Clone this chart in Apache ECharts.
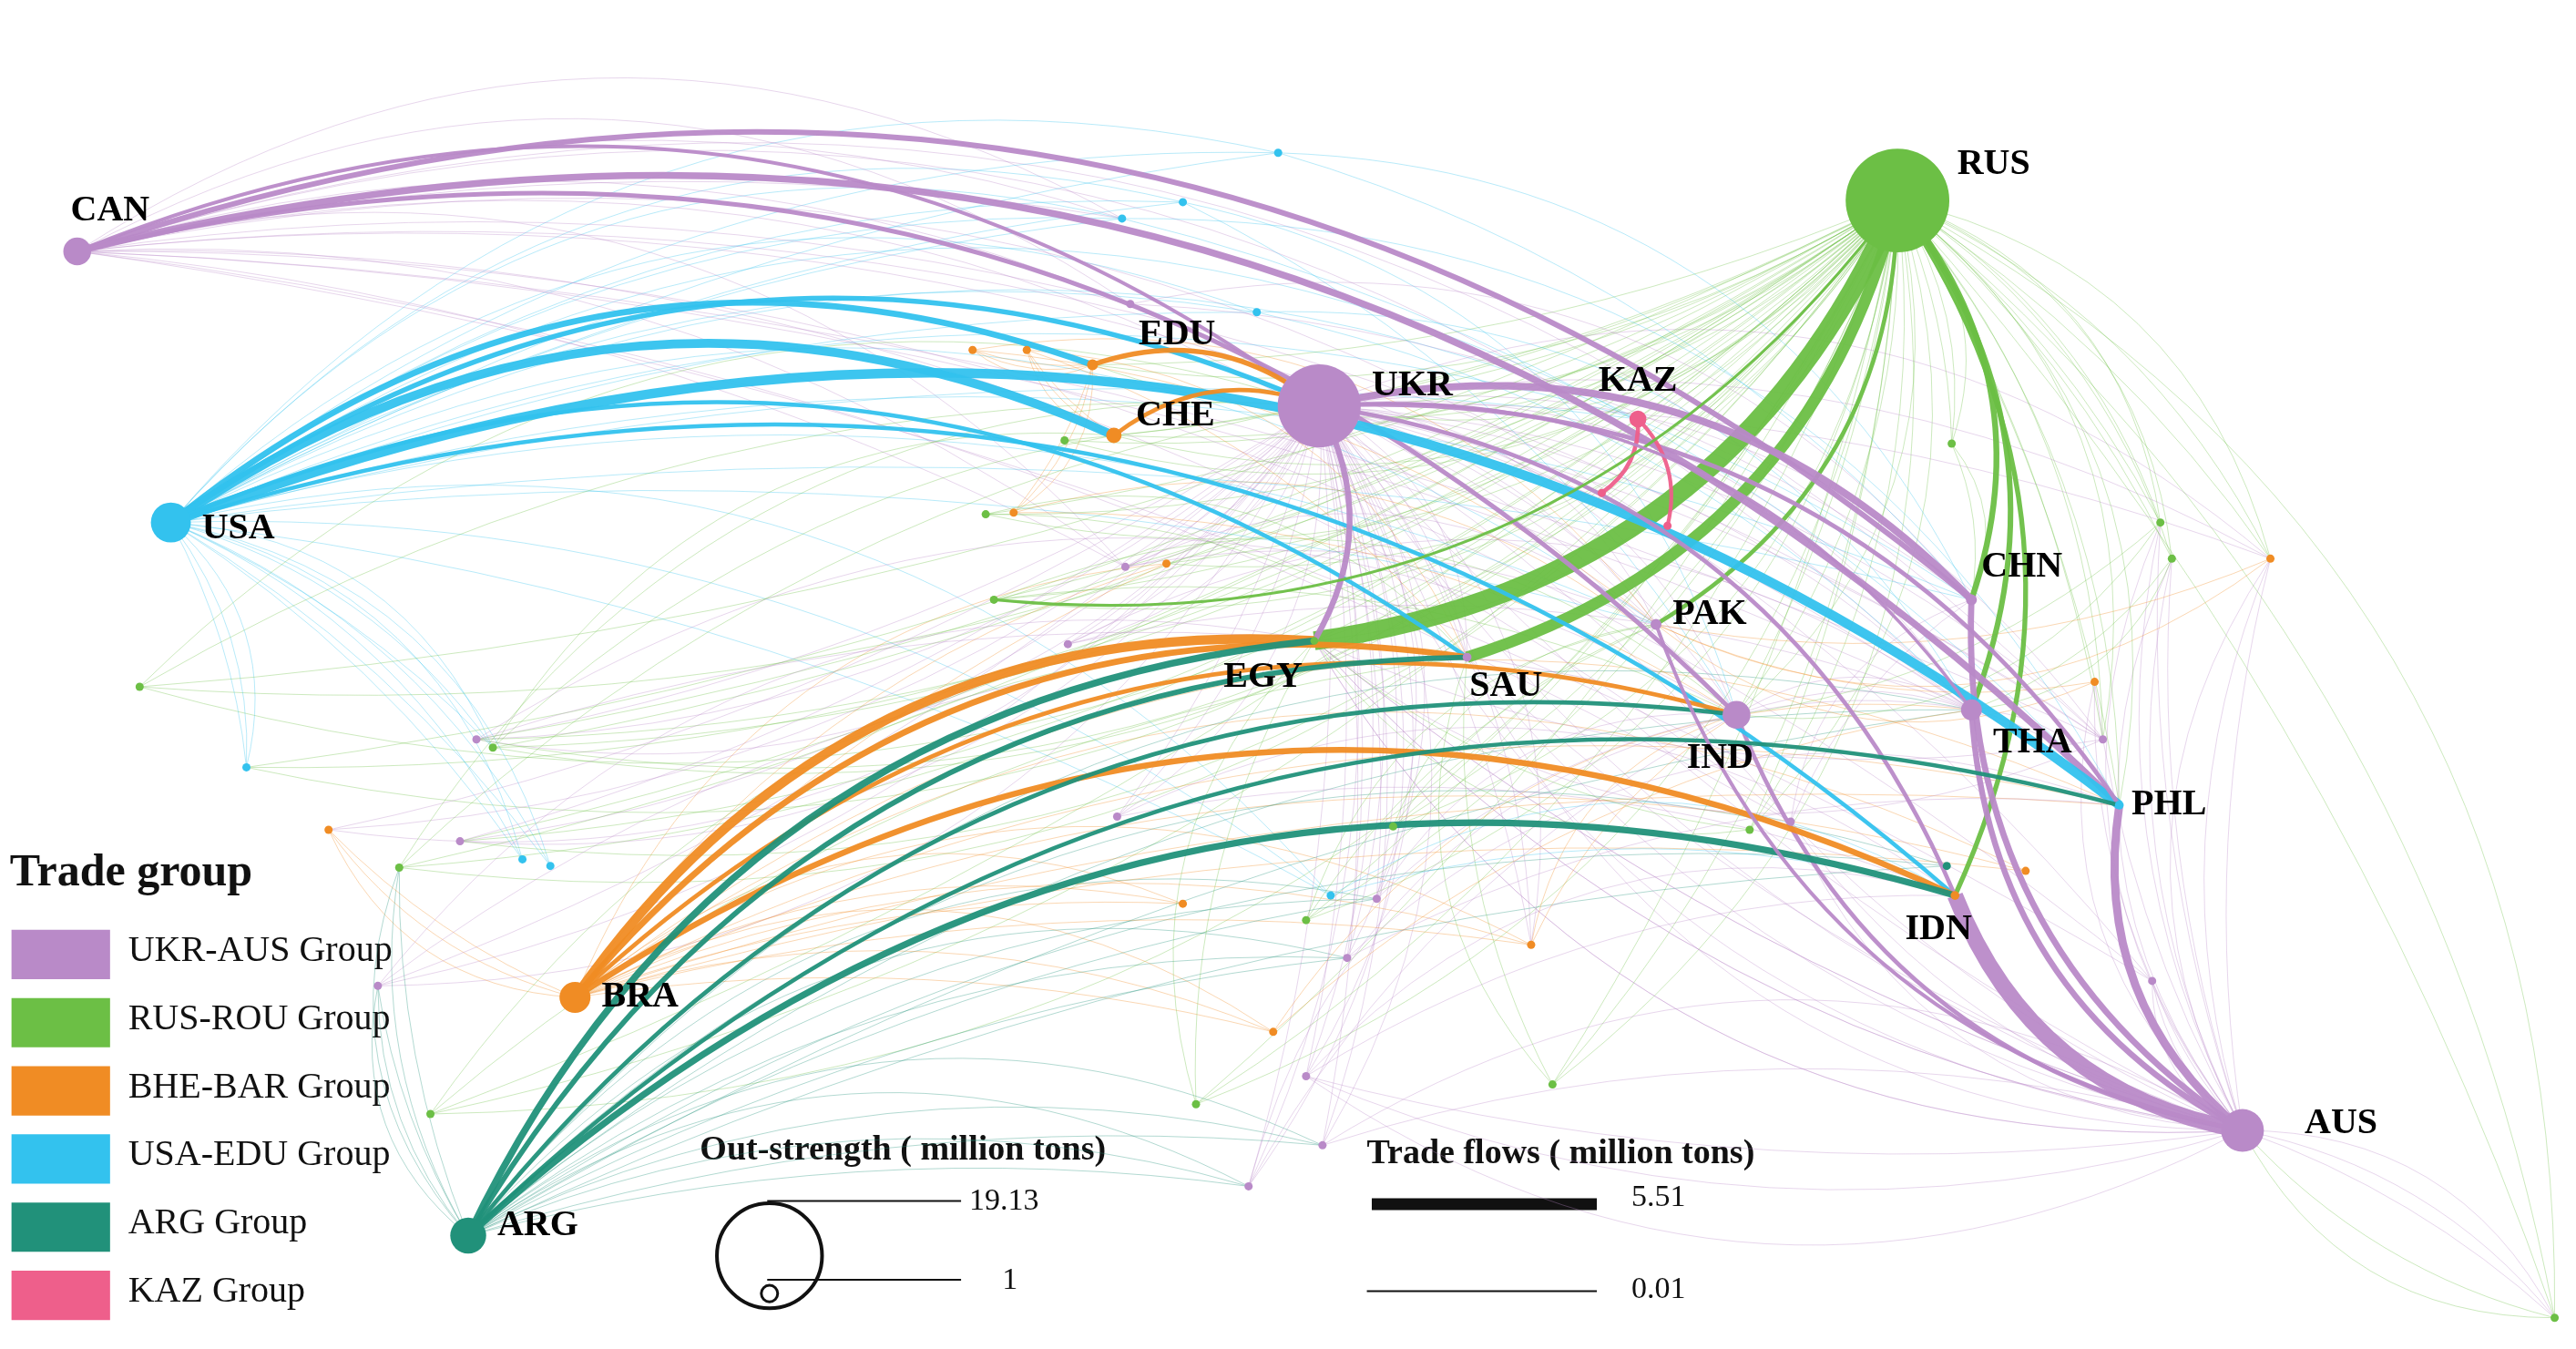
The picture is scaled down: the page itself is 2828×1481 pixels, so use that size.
<!DOCTYPE html>
<html><head><meta charset="utf-8">
<script src="https://cdn.jsdelivr.net/npm/echarts@6/dist/echarts.min.js"></script>
<style>html,body{margin:0;background:#fff}#c{width:2828px;height:1481px}</style>
</head><body><div id="c"></div>
<script>
// group names and colours
const groupNames=['UKR-AUS Group','RUS-ROU Group','BHE-BAR Group','USA-EDU Group','ARG Group','KAZ Group'];
// nodes: name, x, y (layout units), group index, out-strength (million tons)
const nodeNames=['CAN','USA','RUS','UKR','KAZ','EDU','CHE','CHN','PAK','SAU','EGY','IND','THA','PHL','IDN','AUS','BRA','ARG'];
const nodeX=[47,104,1155,803,997,665,678,1200,1008,893,800,1057,1200,1290,1190,1365,350,285];
const nodeY=[153,318,122,247,255,222,265,365,380,400,390,435,432,490,545,688,607,752];
const nodeGroup=[0,3,1,0,5,2,2,0,0,0,1,0,0,3,2,0,2,4];
const nodeStrength=[3,5,19.13,14,1.5,0.8,1.3,0.8,0.8,0.6,0.5,3,2,0.6,0.6,5.5,3.5,4.3];
// minor nodes
const minorX=[85,150,200,243,280,318,335,290,300,230,262,605,685,710,650,680,720,795,810,838,820,775,795,728,805,760,932,945,848,1315,1322,1382,1275,1280,1310,1555,1188,1185,1233,778,683,720,765,688,625,648,592,617,600,1090,1065,975,1015];
const minorY=[418,467,505,528,512,523,527,450,455,600,678,365,345,343,392,497,550,560,545,547,583,628,655,672,697,722,575,660,503,318,340,340,415,450,597,802,270,527,530,93,133,123,190,185,213,268,213,312,313,500,505,300,320];
const minorGroup=[1,3,2,1,0,3,3,0,1,0,1,1,0,2,0,0,2,1,3,0,0,2,0,1,0,0,2,1,1,1,1,2,2,0,0,1,1,4,2,3,3,3,3,0,2,1,2,2,1,0,1,5,5];
// strong flows: source, target, million tons
const flowSrc=['RUS','RUS','RUS','RUS','RUS','RUS','AUS','AUS','AUS','AUS','AUS','CAN','CAN','CAN','CAN','USA','USA','USA','USA','USA','USA','UKR','UKR','UKR','UKR','BRA','BRA','BRA','BRA','ARG','ARG','ARG','ARG','ARG','EDU','CHE','KAZ','KAZ','RUS','AUS','UKR'];
const flowTgt=['EGY','SAU','CHN','THA','IDN','PAK','IDN','PHL','CHN','THA','IND','PHL','CHN','IND','UKR','PHL','EDU','CHE','SAU','IDN','UKR','CHN','EGY','IDN','PHL','EGY','SAU','IDN','IND','EGY','SAU','IDN','PHL','IND','UKR','UKR','m51','m52','m11','PAK','THA'];
const flowVal=[5.51,3.2,1.5,1.4,1.2,1.0,4.6,2.2,1.6,1.5,1.0,1.8,1.4,1.1,0.8,2.6,1.6,2.4,1.0,1.0,1.2,2.0,1.5,1.0,1.0,2.6,1.6,1.5,1.0,1.8,1.3,1.7,1.0,1.0,1.2,1.0,1.0,0.9,0.6,0.8,0.7];
// weak flows (source, target)
const weakSrc=['RUS','RUS','RUS','RUS','RUS','RUS','RUS','RUS','RUS','RUS','RUS','RUS','RUS','RUS','RUS','RUS','UKR','UKR','UKR','UKR','UKR','UKR','UKR','UKR','UKR','UKR','UKR','UKR','AUS','AUS','AUS','AUS','AUS','AUS','AUS','AUS','USA','USA','USA','USA','USA','USA','USA','USA','USA','CAN','CAN','CAN','CAN','CAN','CAN','BRA','BRA','BRA','BRA','BRA','BRA','ARG','ARG','ARG','ARG','ARG','ARG','ARG','RUS','RUS','RUS','RUS','RUS','RUS','UKR','UKR','UKR','UKR','USA','USA','AUS','AUS','AUS','RUS','RUS','RUS','UKR','UKR','CHE','EDU','EDU','IND','THA','RUS','RUS','RUS','UKR','USA','AUS','ARG','BRA','CAN'];
const weakTgt=['m0','m3','m8','m10','m11','m17','m23','m27','m28','m29','m30','m35','m36','m45','m48','m50','m4','m7','m9','m12','m14','m15','m19','m20','m22','m24','m25','m33','m34','m35','m29','m30','m31','m32','m49','m22','m1','m5','m6','m18','m39','m40','m41','m42','m8','m43','m40','m12','m49','m33','m34','m2','m13','m16','m21','m26','m38','m37','m24','m25','m20','m19','m3','m9','IND','EGY','UKR','CHE','EDU','PHL','SAU','PAK','IND','THA','KAZ','CHN','EGY','SAU','UKR','m31','m33','m13','m26','m31','m44','m46','m47','THA','PHL','m7','m4','m1','m2','PAK','EGY','THA','PHL','THA'];
// secondary sweep of weak flows between minor exporters and importers
const weak2Src=['m0','m3','m10','m9','m7','m8','m11','m12','m14','m15','m17','m19','m21','m23','m25','m27','m29','m30','m31','m32','m33','m35','m36','m39','m40','m41','m42','m43','m44','m46','m47','m48','m49','m50','m26','m28','m24','m22','m20','m18'];
const weak2Tgt=['UKR','UKR','SAU','EGY','IND','CHE','IND','PAK','THA','IDN','PAK','IND','THA','EGY','IND','SAU','IND','THA','PAK','PAK','EGY','AUS','CHN','CHN','PHL','IND','THA','CHN','SAU','PAK','IND','SAU','CHN','EGY','IND','PAK','AUS','IDN','PHL','IDN'];
// legend numbers
const strengthLegend=[19.13,1];
const flowLegend=[5.51,0.01];

const S=2828/1568;
const colors=['#b98ac8','#6cbf45','#f08c24','#33c2ee','#21917a','#ee5f8b'];
const pos={},grp={};
nodeNames.forEach((n,i)=>{pos[n]=[nodeX[i],nodeY[i]];grp[n]=nodeGroup[i];});
minorX.forEach((x,i)=>{pos['m'+i]=[x,minorY[i]];grp['m'+i]=minorGroup[i];});
const dia=v=>14*Math.pow(v,0.71);
const labelOff={EGY:['left',[-2,22]],IDN:['bottom',[-10,4]],SAU:['right',[-4,18]],IND:['bottom',[-10,4]],KAZ:['top',[0,-4]],EDU:['right',[22,-18]],CHE:['right',[6,-12]],THA:['right',[4,20]],CAN:['top',[20,-2]],AUS:['right',[22,-4]],RUS:['right',[2,-22]],UKR:['right',[4,-12]],CHN:['right',[0,-20]],PAK:['right',[4,-6]],PHL:['right',[2,0]],USA:['right',[4,4]],BRA:['right',[4,0]],ARG:['right',[4,-6]]};
const mainNodes=nodeNames.map((n,i)=>({value:pos[n],name:n,symbolSize:dia(nodeStrength[i]),
  itemStyle:{color:colors[nodeGroup[i]],opacity:1},
  label:{show:true,formatter:n,position:labelOff[n][0],offset:labelOff[n][1].map(v=>v*S),fontFamily:'Liberation Serif',fontWeight:'bold',fontSize:40,color:'#000',opacity:1}}));
const minorNodes=minorX.map((x,i)=>({value:[x,minorY[i]],symbolSize:9,itemStyle:{color:colors[minorGroup[i]],opacity:1}}));
const flows=flowSrc.map((s,i)=>({coords:[pos[s],pos[flowTgt[i]]],lineStyle:{color:colors[grp[s]],width:1+flowVal[i]*3.6,opacity:0.95,curveness:0.28}}));
const weak=[];
[0.3,0.18,0.1].forEach((c,k)=>weakSrc.forEach((s,i)=>weak.push({coords:[pos[s],pos[weakTgt[i]]],lineStyle:{color:colors[grp[s]],width:1,opacity:0.35,curveness:c}})));
[0.3,0.15].forEach(c=>weak2Src.forEach((s,i)=>weak.push({coords:[pos[s],pos[weak2Tgt[i]]],lineStyle:{color:colors[grp[s]],width:1,opacity:0.35,curveness:c}})));

const gtxt=(x,y,t,sz,bold)=>({type:'text',left:x*S,top:y*S,style:{text:t,font:(bold?'bold ':'')+sz+'px "Liberation Serif"',fill:'#111'}});
const graphics=[gtxt(6,518,'Trade group',50,true)];
groupNames.forEach((g,i)=>{
  graphics.push({type:'rect',left:7*S,top:(566+i*41.5)*S,shape:{width:60*S,height:30*S},style:{fill:colors[i]}});
  graphics.push(gtxt(78,568+i*41.5,g,40,false));
});
graphics.push(gtxt(426,690,'Out-strength ( million tons)',38,true));
graphics.push({type:'circle',left:(467-32)*S,top:(763-32)*S,shape:{r:32*S},style:{fill:'none',stroke:'#111',lineWidth:4}});
graphics.push({type:'circle',left:(467-5)*S,top:(786-5)*S,shape:{r:5*S},style:{fill:'none',stroke:'#111',lineWidth:3}});
graphics.push({type:'line',shape:{x1:467*S,y1:731*S,x2:585*S,y2:731*S},style:{stroke:'#111',lineWidth:2}});
graphics.push({type:'line',shape:{x1:467*S,y1:779*S,x2:585*S,y2:779*S},style:{stroke:'#111',lineWidth:2}});
graphics.push(gtxt(590,722,String(strengthLegend[0]),34,false));
graphics.push(gtxt(610,770,String(strengthLegend[1]),34,false));
graphics.push(gtxt(832,692,'Trade flows ( million tons)',38,true));
graphics.push({type:'line',shape:{x1:835*S,y1:733*S,x2:972*S,y2:733*S},style:{stroke:'#111',lineWidth:13}});
graphics.push({type:'line',shape:{x1:832*S,y1:786*S,x2:972*S,y2:786*S},style:{stroke:'#111',lineWidth:2}});
graphics.push(gtxt(993,720,String(flowLegend[0]),34,false));
graphics.push(gtxt(993,776,String(flowLegend[1]),34,false));

const chart=echarts.init(document.getElementById('c'));
chart.setOption({
  animation:false,
  grid:{left:0,right:0,top:0,bottom:0},
  xAxis:{type:'value',min:0,max:1568,show:false},
  yAxis:{type:'value',min:0,max:821,inverse:true,show:false},
  series:[
    {type:'lines',coordinateSystem:'cartesian2d',data:weak,z:1,silent:true},
    {type:'lines',coordinateSystem:'cartesian2d',data:flows,z:2},
    {type:'scatter',data:minorNodes,z:3},
    {type:'scatter',data:mainNodes,z:4}
  ],
  graphic:graphics
});
</script></body></html>
